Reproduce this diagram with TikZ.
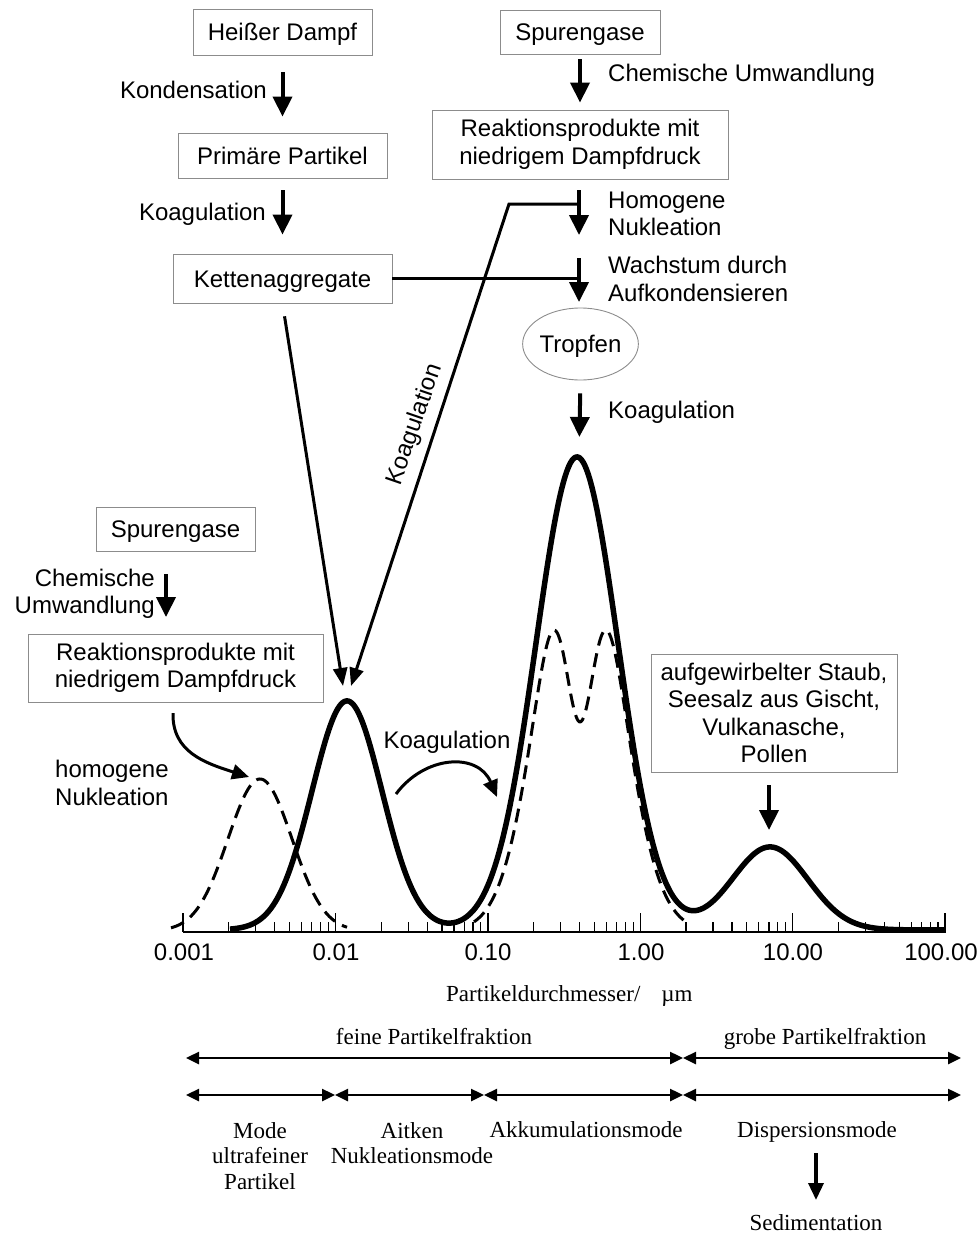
\documentclass[tikz,border=0pt]{standalone}
\usepackage{fontspec}
\setmainfont{Liberation Sans}
\newfontfamily\serif{Liberation Serif}
\usetikzlibrary{arrows.meta,shapes.geometric}
\begin{document}
\begin{tikzpicture}[x=1pt,y=-1pt,
  every node/.style={font=\fontsize{24}{27.5}\selectfont, inner sep=0pt},
  sl/.style={text height=17pt, text depth=0pt},
  box/.style={draw=black!45, line width=0.9pt, fill=white, align=center},
  bigarrow/.style={line width=4pt, -{Triangle[length=20pt,width=19pt]}},
  thinarrow/.style={line width=3pt, line join=miter, -{Triangle[length=18pt,width=14pt]}},
  curvarrow/.style={line width=3pt, -{Triangle[length=17pt,width=15pt]}},
  conn/.style={line width=3pt},
  solidcurve/.style={line width=5.5pt, line join=round},
  dashcurve/.style={line width=3pt, dash pattern=on 14pt off 8pt},
  dblarrow/.style={line width=2.5pt, {Triangle[length=13pt,width=12pt]}-{Triangle[length=13pt,width=12pt]}},
  serifl/.style={font=\serif\fontsize{23}{25.5}\selectfont, align=center},
  serifs/.style={font=\serif\fontsize{23}{25.5}\selectfont, anchor=base},
  declare function={g(\t,\m,\s)=exp(max(-9,-0.5*((\t-\m)/\s)*((\t-\m)/\s)));}
]
\useasboundingbox (0,0) rectangle (978,1234);

% ---------- top left column ----------
\node[box, sl, minimum width=179pt, minimum height=46pt] (hd) at (282.5,32) {Heißer Dampf};
\node[box, sl, minimum width=209pt, minimum height=45pt] (pp) at (282.5,155.5) {Primäre Partikel};
\node[box, sl, minimum width=219pt, minimum height=49pt] (ka) at (282.5,278.5) {Kettenaggregate};
\draw[bigarrow, shorten <=17pt, shorten >=16pt] (hd.south) -- (pp.north);
\draw[bigarrow, shorten <=12pt, shorten >=19pt] (pp.south) -- (ka.north);
\node[sl, anchor=east] (lkond) at (267,90) {Kondensation};
\node[sl, anchor=east] (lkoag1) at (266,212) {Koagulation};

% ---------- top right column ----------
\node[box, sl, minimum width=160pt, minimum height=44pt] (sg1) at (580,32) {Spurengase};
\node[box, minimum width=296pt, minimum height=69pt] (rp1) at (580,144.5) {Reaktionsprodukte mit\\niedrigem Dampfdruck};
\draw[bigarrow, shorten <=5pt, shorten >=7pt] (sg1.south) -- (rp1.north);
\node[sl, anchor=west] (lchem1) at (608,73) {Chemische Umwandlung};

\coordinate (hn1) at (579,190);
\coordinate (hn2) at (579,235);
\coordinate (wa1) at (579,258);
\coordinate (wa2) at (579,302);
\draw[bigarrow] (hn1) -- (hn2);
\draw[bigarrow] (wa1) -- (wa2);
\node[anchor=west, align=left] (lhom) at (608,214) {Homogene\\Nukleation};
\node[anchor=west, align=left] (lwach) at (608,279) {Wachstum durch\\Aufkondensieren};

\node[ellipse, sl, draw=black!45, line width=0.9pt, minimum width=107pt, minimum height=72pt] (tr) at (580.5,344) {Tropfen};
\coordinate (pk2) at (579,455);
\draw[bigarrow, shorten <=13pt, shorten >=18pt] (tr.south) -- (pk2);
\node[sl, anchor=west] (lkoag2) at (608,410) {Koagulation};

% connectors to the ultrafine peak
\coordinate (bend) at (509,204);
\coordinate (pk1a) at (343,686);
\coordinate (pk1b) at (351,686);
\draw[conn] (ka.east) -- (ka.east -| wa1);
\draw[thinarrow] (hn1 |- bend) -- (bend) -- (pk1b);
\draw[thinarrow, shorten <=13pt] (ka.south) -- (pk1a);
\node[sl, rotate=71] (lkoagrot) at (413,424) {Koagulation};

% ---------- left middle ----------
\node[box, sl, minimum width=159pt, minimum height=44pt] (sg2) at (175.5,529) {Spurengase};
\node[box, minimum width=295pt, minimum height=68pt] (rp2) at (175.5,668) {Reaktionsprodukte mit\\niedrigem Dampfdruck};
\coordinate (cu1) at (166,574);
\coordinate (cu2) at (166,617);
\draw[bigarrow] (cu1) -- (cu2);
\node[anchor=east, align=right] (lchem2) at (155,594) {Chemische\\Umwandlung};
\node[anchor=west, align=left] (lhom2) at (55,783) {homogene\\Nukleation};
\coordinate (hs) at (173,713);
\coordinate (ht) at (249,777);
\draw[curvarrow] (hs) .. controls (172,752) and (205,763) .. (ht);

\node[sl] (lkoag3) at (447,740) {Koagulation};
\coordinate (ko1) at (396,794);
\coordinate (ko2) at (497,797);
\draw[curvarrow] (ko1) .. controls (425,755) and (478,752) .. (ko2);

% ---------- right box ----------
\node[box, minimum width=246pt, minimum height=118pt] (st) at (774,713) {aufgewirbelter Staub,\\Seesalz aus Gischt,\\Vulkanasche,\\Pollen};
\coordinate (st1) at (769,785);
\coordinate (st2) at (769,830);
\draw[bigarrow] (st1) -- (st2);

% ---------- axis ----------
\draw[line width=1.6pt] (183,932) -- (946,932);
\foreach \k in {0,...,5} {
  \draw[line width=1.4pt] ({183+152.4*\k},913) -- ({183+152.4*\k},932);
}
\foreach \k in {0,...,4} {
  \foreach \m in {2,...,9} {
    \draw[line width=1.2pt] ({183+152.4*(\k+ln(\m)/ln(10))},922) -- ({183+152.4*(\k+ln(\m)/ln(10))},932);
  }
}
\node[sl] (t1) at (184,952) {0.001};
\node[sl] (t2) at (336,952) {0.01};
\node[sl] (t3) at (488,952) {0.10};
\node[sl] (t4) at (641,952) {1.00};
\node[sl] (t5) at (793,952) {10.00};
\node[sl] (t6) at (941,952) {100.00};

% ---------- curves ----------
\draw[dashcurve, domain=171:347, samples=120] plot (\x, {931-152*g(\x,260,32)});
\draw[dashcurve, domain=474:690, samples=200] plot (\x, {931-451*g(\x,580,38)+242*g(\x,580,15.2)});
\draw[solidcurve, domain=230:945, samples=400] plot (\x, {930-229*g(\x,347,35)-473*g(\x,577,41)-83*g(\x,770,38)});

% ---------- bottom classification ----------
\node[serifs, anchor=base west] (xlab) at (446,1001) {Partikeldurchmesser/\hspace{21pt}µm};
\node[serifs] (lfein) at (434,1044) {feine Partikelfraktion};
\node[serifs] (lgrob) at (825,1044) {grobe Partikelfraktion};
\coordinate (r1a) at (186,1058);
\coordinate (r1b) at (683,1058);
\coordinate (r1c) at (961,1058);
\draw[dblarrow] (r1a) -- (r1b);
\draw[dblarrow] (r1b) -- (r1c);
\coordinate (r2a) at (186,1095);
\coordinate (r2b) at (335,1095);
\coordinate (r2c) at (484,1095);
\coordinate (r2d) at (683,1095);
\coordinate (r2e) at (961,1095);
\draw[dblarrow] (r2a) -- (r2b);
\draw[dblarrow] (r2b) -- (r2c);
\draw[dblarrow] (r2c) -- (r2d);
\draw[dblarrow] (r2d) -- (r2e);
\node[serifl] (lmode) at (260,1156) {Mode\\ultrafeiner\\Partikel};
\node[serifl] (laitk) at (412,1143) {Aitken\\Nukleationsmode};
\node[serifs] (lakku) at (586,1137.5) {Akkumulationsmode};
\node[serifs] (ldisp) at (817,1137.5) {Dispersionsmode};
\node[serifs] (lsed) at (816,1230) {Sedimentation};
\coordinate (se1) at (816,1153);
\coordinate (se2) at (816,1200);
\draw[line width=3.5pt, -{Triangle[length=17pt,width=15pt]}] (se1) -- (se2);
\end{tikzpicture}
\end{document}
